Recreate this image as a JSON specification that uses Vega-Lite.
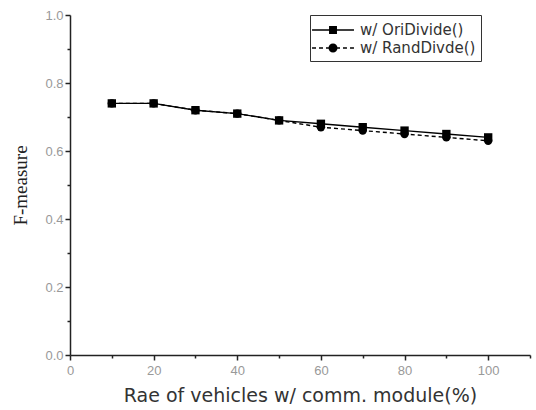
{
  "$schema": "https://vega.github.io/schema/vega-lite/v6.json",
  "width": 460,
  "height": 340,
  "autosize": "none",
  "padding": {"left": 70, "top": 15, "right": 6, "bottom": 55},
  "background": "white",
  "data": {"values": [
    {"x": 10, "y": 0.74, "series": "w/ OriDivide()"},
    {"x": 20, "y": 0.74, "series": "w/ OriDivide()"},
    {"x": 30, "y": 0.72, "series": "w/ OriDivide()"},
    {"x": 40, "y": 0.71, "series": "w/ OriDivide()"},
    {"x": 50, "y": 0.69, "series": "w/ OriDivide()"},
    {"x": 60, "y": 0.68, "series": "w/ OriDivide()"},
    {"x": 70, "y": 0.67, "series": "w/ OriDivide()"},
    {"x": 80, "y": 0.66, "series": "w/ OriDivide()"},
    {"x": 90, "y": 0.65, "series": "w/ OriDivide()"},
    {"x": 100, "y": 0.64, "series": "w/ OriDivide()"},
    {"x": 10, "y": 0.74, "series": "w/ RandDivde()"},
    {"x": 20, "y": 0.74, "series": "w/ RandDivde()"},
    {"x": 30, "y": 0.72, "series": "w/ RandDivde()"},
    {"x": 40, "y": 0.71, "series": "w/ RandDivde()"},
    {"x": 50, "y": 0.69, "series": "w/ RandDivde()"},
    {"x": 60, "y": 0.67, "series": "w/ RandDivde()"},
    {"x": 70, "y": 0.66, "series": "w/ RandDivde()"},
    {"x": 80, "y": 0.65, "series": "w/ RandDivde()"},
    {"x": 90, "y": 0.64, "series": "w/ RandDivde()"},
    {"x": 100, "y": 0.63, "series": "w/ RandDivde()"}
  ]},
  "config": {
    "view": {"stroke": null},
    "axis": {"grid": false, "domainColor": "#222", "domainWidth": 1.5, "tickColor": "#222", "tickWidth": 1.5,
             "labelColor": "#999", "labelFont": "Liberation Sans", "labelFontSize": 13,
             "titleColor": "#222", "titleFontWeight": "normal"}
  },
  "encoding": {
    "x": {"field": "x", "type": "quantitative",
          "scale": {"domain": [0, 110], "nice": false, "zero": false},
          "axis": {"title": "Rae of vehicles w/ comm. module(%)", "titleFont": "DejaVu Sans", "titleFontSize": 19,
                   "titleColor": "#333", "titlePadding": 9,
                   "values": [0, 10, 20, 30, 40, 50, 60, 70, 80, 90, 100, 110],
                   "labelExpr": "datum.value % 20 === 0 && datum.value <= 100 ? datum.label : ''",
                   "tickSize": {"condition": {"test": "datum.value % 20 === 0", "value": 5}, "value": 3},
                   "labelPadding": 4, "labelFlush": false}},
    "y": {"field": "y", "type": "quantitative",
          "scale": {"domain": [0, 1], "nice": false},
          "axis": {"title": "F-measure", "titleFont": "Liberation Serif", "titleFontSize": 19, "titlePadding": 14,
                   "values": [0, 0.1, 0.2, 0.3, 0.4, 0.5, 0.6, 0.7, 0.8, 0.9, 1.0],
                   "format": ".1f",
                   "labelExpr": "round(datum.value * 10) % 2 === 0 ? datum.label : ''",
                   "tickSize": {"condition": {"test": "round(datum.value * 10) % 2 === 0", "value": 5}, "value": 3},
                   "labelPadding": 2, "labelFlush": false}}
  },
  "layer": [
    {
      "transform": [{"filter": "datum.series === 'w/ RandDivde()'"}],
      "mark": {"type": "line", "color": "black", "strokeWidth": 1.4, "strokeDash": [4, 3]},
      "encoding": {}
    },
    {
      "transform": [{"filter": "datum.series === 'w/ OriDivide()'"}],
      "mark": {"type": "line", "color": "black", "strokeWidth": 1.4},
      "encoding": {}
    },
    {
      "transform": [{"filter": "datum.series === 'w/ OriDivide()'"}],
      "mark": {"type": "point", "filled": true, "color": "black", "opacity": 1, "size": 70, "shape": "square"}
    },
    {
      "transform": [{"filter": "datum.series === 'w/ RandDivde()'"}],
      "mark": {"type": "point", "filled": true, "color": "black", "opacity": 1, "size": 70, "shape": "circle"}
    },
    {
      "transform": [{"filter": "false"}],
      "mark": {"type": "point", "filled": true, "color": "black", "opacity": 1, "size": 324},
      "encoding": {
        "shape": {"field": "series", "type": "nominal",
                  "scale": {"domain": ["w/ OriDivide()", "w/ RandDivde()"],
                            "range": ["M-1.44,-0.08H3.22V0.08H-1.44ZM0.45,-0.44H1.33V0.44H0.45Z",
                                      "M-1.44,-0.08H-1.0V0.08H-1.44ZM-0.67,-0.08H-0.22V0.08H-0.67ZM0.11,-0.08H0.45V0.08H0.11ZM1.33,-0.08H1.67V0.08H1.33ZM2.0,-0.08H2.44V0.08H2.0ZM2.78,-0.08H3.22V0.08H2.78ZM1.39,0A0.5,0.5 0 1 1 0.39,0A0.5,0.5 0 1 1 1.39,0Z"]},
                  "legend": {"title": null, "orient": "none", "legendX": 240, "legendY": 0,
                             "strokeColor": "#333", "padding": 5, "rowPadding": 0,
                             "labelFont": "DejaVu Sans", "labelFontSize": 15, "labelColor": "#333",
                             "labelOffset": 25, "symbolSize": 324,
                             "symbolFillColor": "black", "symbolOpacity": 1}}
      }
    }
  ]
}
